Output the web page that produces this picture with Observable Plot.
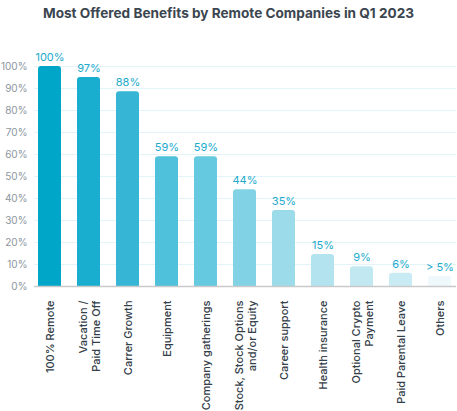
<!DOCTYPE html>
<html>
<head>
<meta charset="utf-8">
<script src="https://cdn.jsdelivr.net/npm/d3@7"></script>
<script src="https://cdn.jsdelivr.net/npm/@observablehq/plot@0.6"></script>
<style>
  body { margin: 0; background: #fff; font-family: Inter, "Noto Sans", sans-serif; }
  #title { height: 26px; line-height: 26px; text-align: center; font-weight: 700; font-size: 13.6px; color: #3b4650; }
  svg { display: block; overflow: visible; }
</style>
</head>
<body>
<div id="title">Most Offered Benefits by Remote Companies in Q1 2023</div>
<div id="chart"></div>
<script>
const categories = ["100% Remote", "Vacation /\nPaid Time Off", "Carrer Growth", "Equipment", "Company gatherings", "Stock, Stock Options\nand/or Equity", "Career support", "Health insurance", "Optional Crypto\nPayment", "Paid Parental Leave", "Others"];
const values = [100, 95, 88.5, 59, 59, 44, 34.5, 14.5, 9, 6, 4.5];
const valueLabels = ["100%", "97%", "88%", "59%", "59%", "44%", "35%", "15%", "9%", "6%", "> 5%"];
const colors = ["#00a6c8", "#19aed0", "#36b6d4", "#4fc1da", "#65c9df", "#80d2e4", "#9cdbea", "#b2e3ef", "#c2e9f2", "#c9ecf4", "#eff9fc"];
const yTicks = [0, 10, 20, 30, 40, 50, 60, 70, 80, 90, 100];

const data = categories.map((c, i) => ({cat: c, value: values[i], label: valueLabels[i], color: colors[i]}));

const chart = Plot.plot({
  width: 457,
  height: 385,
  marginTop: 40,
  marginBottom: 125,
  marginLeft: 34,
  marginRight: 1,
  style: {fontFamily: "Inter, 'Noto Sans', sans-serif", background: "#fff"},
  x: {domain: categories, paddingInner: 0.4, paddingOuter: 0, axis: null},
  y: {domain: [0, 100], axis: null},
  marks: [
    Plot.ruleY(yTicks.filter(d => d > 0), {stroke: "#e2f4f9", strokeWidth: 1}),
    Plot.text(yTicks, {x: null, y: d => d, frameAnchor: "left", dx: -7, textAnchor: "end", text: d => d + "%", fill: "#8c959e", fontSize: 10}),
    Plot.barY(data, {x: "cat", y: "value", fill: "color", rx: 3, ry: 3}),
    Plot.barY(data, {x: "cat", y1: 0, y2: d => d.value / 2, fill: "color"}),
    Plot.ruleY([0], {stroke: "#c9c9c9", strokeWidth: 1.5}),
    Plot.text(data, {x: "cat", y: "value", text: "label", dy: -9, fill: "#22aacd", fontSize: 11}),
    Plot.text(data, {x: "cat", frameAnchor: "bottom", dy: 14, text: "cat", rotate: -90, textAnchor: "end", lineAnchor: "middle", fill: "#34404a", fontSize: 11, fontWeight: 500, lineHeight: 1.25})
  ]
});
document.getElementById("chart").appendChild(chart);
</script>
</body>
</html>
